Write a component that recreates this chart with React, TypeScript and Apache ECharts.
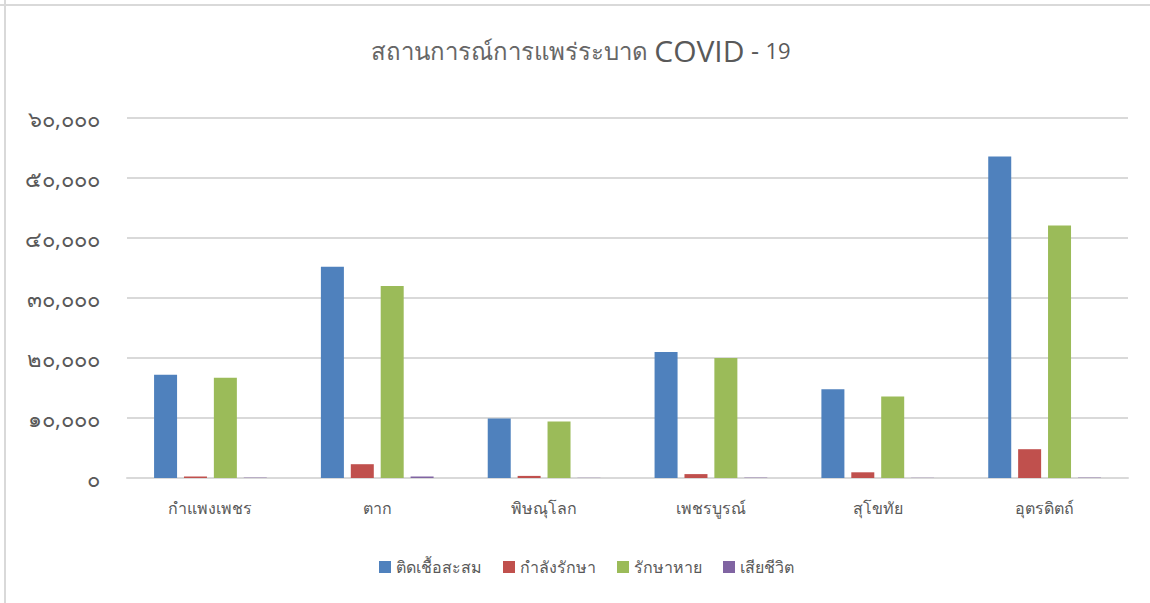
import React, { useEffect, useRef } from "react";
import * as echarts from "echarts";

const categories = ["กำแพงเพชร", "ตาก", "พิษณุโลก", "เพชรบูรณ์", "สุโขทัย", "อุตรดิตถ์"];
const seriesNames = ["ติดเชื้อสะสม", "กำลังรักษา", "รักษาหาย", "เสียชีวิต"];
const infected = [17200, 35200, 9900, 21000, 14800, 53600];
const treating = [250, 2300, 350, 650, 950, 4800];
const recovered = [16700, 32000, 9400, 20000, 13600, 42100];
const deaths = [60, 250, 30, 60, 30, 60];
const yTickLabels = ["๐", "๑๐,๐๐๐", "๒๐,๐๐๐", "๓๐,๐๐๐", "๔๐,๐๐๐", "๕๐,๐๐๐", "๖๐,๐๐๐"];
const colors = ["#4F81BD", "#C0504D", "#9BBB59", "#8064A2"];

export default function App() {
  const ref = useRef<HTMLDivElement>(null);
  useEffect(() => {
    const chart = echarts.init(ref.current!, null, { renderer: "svg" });
    const data = [infected, treating, recovered, deaths];
    chart.setOption({
      animation: false,
      backgroundColor: "#ffffff",
      color: colors,
      textStyle: { fontFamily: "'Noto Sans', sans-serif" },
      title: {
        text: "{th|สถานการณ์การแพร่ระบาด }{en|COVID}{th2| - }{num|19}",
        left: 366,
        top: 30,
        textStyle: {
          fontWeight: "normal",
          rich: {
            th: { fontSize: 24, color: "#666666", fontWeight: "normal", fontFamily: "'Noto Sans', sans-serif" },
            en: { fontSize: 30, color: "#595959", fontWeight: "normal", fontFamily: "'Open Sans', sans-serif" },
            th2: { fontSize: 25, color: "#595959", fontWeight: "normal", fontFamily: "'Open Sans', sans-serif" },
            num: { fontSize: 22, color: "#595959", fontWeight: "normal", fontFamily: "'Open Sans', sans-serif" },
          },
        },
      },
      legend: {
        bottom: 23,
        left: 374,
        itemWidth: 12,
        itemHeight: 12,
        itemGap: 21,
        icon: "rect",
        textStyle: { fontSize: 16, color: "#595959" },
        data: seriesNames,
      },
      grid: { left: 127, right: 22, top: 118, bottom: 125 },
      xAxis: {
        type: "category",
        data: categories,
        axisLine: { lineStyle: { color: "#d9d9d9", width: 2 } },
        axisTick: { show: false },
        axisLabel: { fontSize: 16, color: "#595959", margin: 22 },
      },
      yAxis: {
        type: "value",
        min: 0,
        max: 60000,
        interval: 10000,
        axisLine: { show: false },
        axisTick: { show: false },
        splitLine: { lineStyle: { color: "#d9d9d9", width: 2 } },
        axisLabel: {
          fontSize: 22,
          color: "#595959",
          margin: 27,
          formatter: (v: number) => yTickLabels[Math.round(v / 10000)],
        },
      },
      series: seriesNames.map((name, i) => ({
        name,
        type: "bar",
        data: data[i],
        barWidth: 23,
        barGap: "30%",
        itemStyle: { color: colors[i] },
      })),
      graphic: [
        { type: "line", shape: { x1: 5, y1: 0, x2: 5, y2: 603 }, style: { stroke: "#d9d9d9", lineWidth: 2 } },
        { type: "line", shape: { x1: 0, y1: 5, x2: 1150, y2: 5 }, style: { stroke: "#d9d9d9", lineWidth: 2 } },
      ],
    });
    return () => chart.dispose();
  }, []);
  return (
    <div
      ref={ref}
      style={{ position: "fixed", left: 0, top: 0, width: 1150, height: 603 }}
    />
  );
}
